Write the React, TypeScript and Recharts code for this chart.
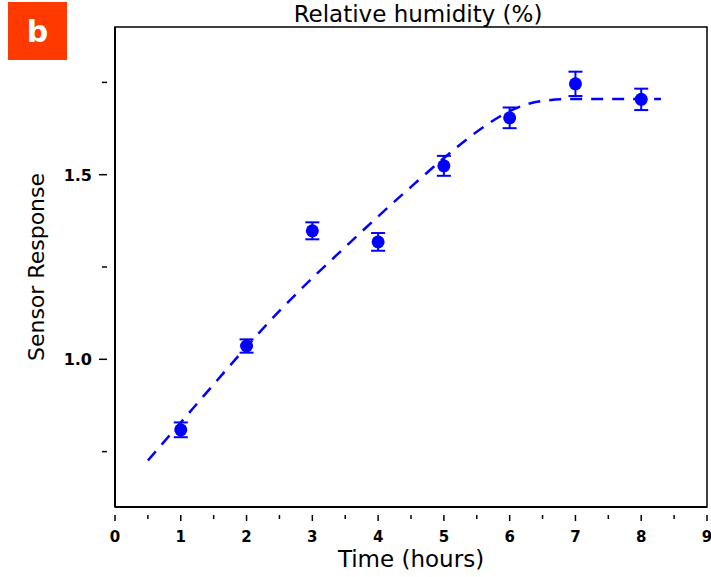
import {
  ComposedChart, ErrorBar, Label, Line, ReferenceArea, Scatter, XAxis, YAxis,
} from "recharts";

// measured points (hours vs response) with error
const hours = [1, 2, 3, 4, 5, 6, 7, 8];
const response = [0.809, 1.036, 1.348, 1.318, 1.524, 1.654, 1.746, 1.704];
const responseErr = [0.02, 0.018, 0.023, 0.024, 0.027, 0.028, 0.033, 0.029];

// dashed fit curve
const fitHours = [0.5, 1, 1.5, 2, 2.5, 3, 3.5, 4, 4.5, 5, 5.5, 6, 6.5, 7, 7.5, 8, 8.3];
const fitResponse = [0.726, 0.829, 0.932, 1.034, 1.131, 1.22, 1.304, 1.387, 1.467, 1.545, 1.616, 1.672, 1.7, 1.705, 1.705, 1.705, 1.705];

const xTicks = [0, 0.5, 1, 1.5, 2, 2.5, 3, 3.5, 4, 4.5, 5, 5.5, 6, 6.5, 7, 7.5, 8, 8.5, 9];
const yTicks = [0.75, 1.0, 1.25, 1.5, 1.75];
const yLabeled = [1.0, 1.5];

const BLUE = "#0000FF";
const FONT = "'DejaVu Sans', sans-serif";

const points = hours.map((h, i) => ({ x: h, y: response[i], err: responseErr[i] }));
const fit = fitHours.map((h, i) => ({ x: h, y: fitResponse[i] }));

function XTick({ x, y, payload }: any) {
  const major = Number.isInteger(payload.value);
  return (
    <g>
      <line x1={x} x2={x} y1={y} y2={y + (major ? 6 : 4)} stroke="#000" strokeWidth={1.5} />
      {major && (
        <text x={x} y={y + 27} textAnchor="middle" fontFamily={FONT} fontWeight="bold" fontSize={15} fill="#000">
          {payload.value}
        </text>
      )}
    </g>
  );
}

function YTick({ x, y, payload }: any) {
  const major = yLabeled.includes(payload.value);
  return (
    <g>
      <line x1={x} x2={x - (major ? 8 : 5)} y1={y} y2={y} stroke="#000" strokeWidth={1.5} />
      {major && (
        <text x={x - 15} y={y + 6} textAnchor="end" fontFamily={FONT} fontWeight="bold" fontSize={16} fill="#000">
          {payload.value.toFixed(1)}
        </text>
      )}
    </g>
  );
}

export default function App() {
  return (
    <div style={{ position: "absolute", left: 0, top: 0, width: 711, height: 577, background: "#fff" }}>
      <ComposedChart width={711} height={577} margin={{ top: 27, right: 4, bottom: 0, left: 0 }}>
        <XAxis
          type="number"
          dataKey="x"
          domain={[0, 9]}
          ticks={xTicks}
          interval={0}
          height={70}
          tick={<XTick />}
          tickLine={false}
          axisLine={{ stroke: "#000", strokeWidth: 2 }}
        >
          <Label value="Time (hours)" position="insideBottom" offset={10} style={{ fontFamily: FONT, fontSize: 23, fill: "#000" }} />
        </XAxis>
        <YAxis
          type="number"
          dataKey="y"
          domain={[0.6, 1.9]}
          ticks={yTicks}
          interval={0}
          width={115}
          tick={<YTick />}
          tickLine={false}
          axisLine={{ stroke: "#000", strokeWidth: 2 }}
        >
          <Label value="Sensor Response" angle={-90} position="insideLeft" offset={36} style={{ fontFamily: FONT, fontSize: 22, fill: "#000", textAnchor: "middle" }} />
        </YAxis>
        <ReferenceArea x1={0} x2={9} y1={0.6} y2={1.9} fill="none" stroke="#000" strokeWidth={1.5} ifOverflow="visible" />
        <Line
          data={fit}
          dataKey="y"
          type="monotone"
          stroke={BLUE}
          strokeWidth={2.5}
          strokeDasharray="12 9"
          dot={false}
          activeDot={false}
          isAnimationActive={false}
        />
        <Scatter
          data={points}
          dataKey="y"
          fill={BLUE}
          isAnimationActive={false}
          shape={(p: any) => <circle cx={p.cx} cy={p.cy} r={6.5} fill={BLUE} />}
        >
          <ErrorBar dataKey="err" direction="y" width={7} stroke={BLUE} strokeWidth={2} />
        </Scatter>
      </ComposedChart>
      <div
        style={{
          position: "absolute", left: 8, top: 2, width: 59, height: 58, background: "#FF3A00",
          color: "#fff", fontFamily: FONT, fontWeight: "bold", fontSize: 30,
          display: "flex", alignItems: "center", justifyContent: "center",
        }}
      >
        b
      </div>
      <div
        style={{
          position: "absolute", left: 118, width: 600, top: 0, textAlign: "center",
          fontFamily: FONT, fontSize: 23, lineHeight: "28px", color: "#000",
        }}
      >
        Relative humidity (%)
      </div>
    </div>
  );
}
